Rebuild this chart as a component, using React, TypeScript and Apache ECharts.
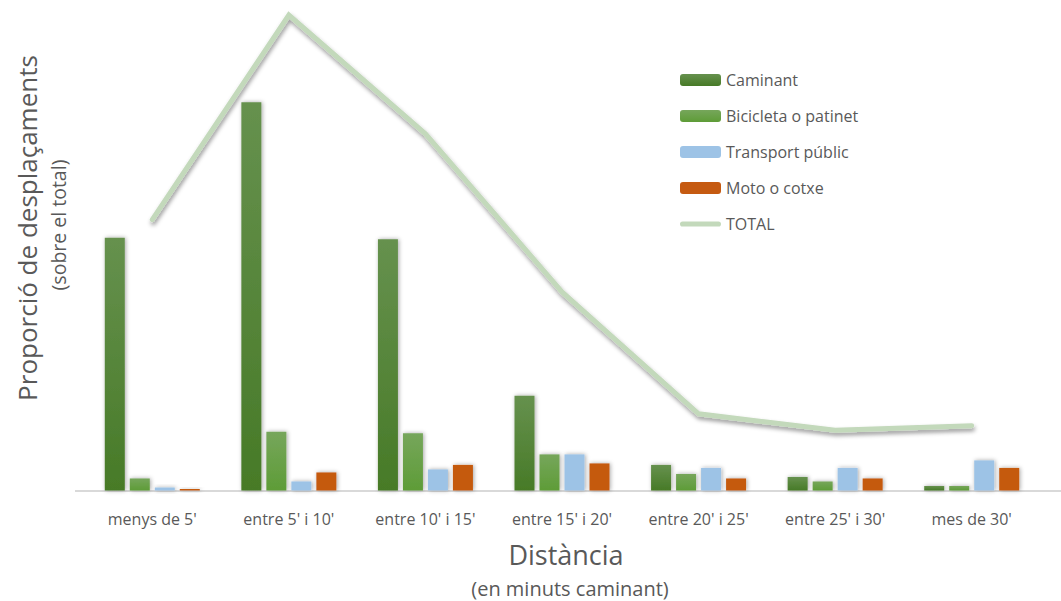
import React, { useEffect, useRef } from "react";
import * as echarts from "echarts";

const categories = [
  "menys de 5'",
  "entre 5' i 10'",
  "entre 10' i 15'",
  "entre 15' i 20'",
  "entre 20' i 25'",
  "entre 25' i 30'",
  "mes de 30'",
];
const caminant = [16.8, 25.8, 16.7, 6.3, 1.7, 0.9, 0.3];
const bicicleta = [0.8, 3.9, 3.8, 2.4, 1.1, 0.6, 0.3];
const transport = [0.2, 0.6, 1.4, 2.4, 1.5, 1.5, 2.0];
const moto = [0.1, 1.2, 1.7, 1.8, 0.8, 0.8, 1.5];
const total = [18.0, 31.6, 23.7, 13.2, 5.1, 4.0, 4.3];

const FONT = "'Open Sans', 'Noto Sans', sans-serif";
const TXT = "#595959";

export default function App() {
  const ref = useRef<HTMLDivElement>(null);
  useEffect(() => {
    if (!ref.current) return;
    const chart = echarts.init(ref.current, null, { renderer: "svg" });
    const grad = (a: string, b: string) =>
      new echarts.graphic.LinearGradient(0, 0, 0, 1, [
        { offset: 0, color: a },
        { offset: 1, color: b },
      ]);
    const barShadow = {
      shadowBlur: 4,
      shadowColor: "rgba(0,0,0,0.35)",
      shadowOffsetX: 1,
      shadowOffsetY: 0,
    };
    const barBase = {
      type: "bar" as const,
      barWidth: 20,
      barGap: "25%",
      z: 2,
    };
    chart.setOption({
      animation: false,
      textStyle: { fontFamily: FONT },
      grid: { left: 84, right: 21, top: 9, bottom: 110.5, containLabel: false },
      legend: {
        orient: "vertical",
        left: 675,
        top: 67,
        itemWidth: 41,
        itemHeight: 12,
        itemGap: 20,
        textStyle: { color: TXT, fontSize: 16, fontFamily: FONT },
        data: [
          { name: "Caminant" },
          { name: "Bicicleta o patinet" },
          { name: "Transport públic" },
          { name: "Moto o cotxe" },
          {
            name: "TOTAL",
            icon:
              "path://M2.5,0 L37.5,0 A2.5,2.5 0 0 1 37.5,5 L2.5,5 A2.5,2.5 0 0 1 2.5,0 Z",
          },
        ],
      },
      xAxis: {
        type: "category",
        data: categories,
        axisLine: { show: false },
        axisTick: { show: false },
        axisLabel: { color: TXT, fontSize: 16, margin: 20, fontFamily: FONT },
      },
      yAxis: {
        type: "value",
        min: 0,
        max: 32,
        show: false,
        splitLine: { show: false },
      },
      graphic: [
        {
          type: "line",
          shape: { x1: 75, y1: 491, x2: 1061, y2: 491 },
          style: { stroke: "#d9d9d9", lineWidth: 2 },
          z: 1,
        },
        {
          type: "text",
          x: 27,
          y: 228,
          rotation: Math.PI / 2,
          style: {
            text: "Proporció de desplaçaments",
            fontSize: 26,
            fontFamily: FONT,
            fill: TXT,
            align: "center",
            verticalAlign: "middle",
          },
        },
        {
          type: "text",
          x: 58,
          y: 225,
          rotation: Math.PI / 2,
          style: {
            text: "(sobre el total)",
            fontSize: 19.5,
            fontFamily: FONT,
            fill: TXT,
            align: "center",
            verticalAlign: "middle",
          },
        },
        {
          type: "text",
          x: 566,
          y: 554,
          style: {
            text: "Distància",
            fontSize: 27,
            fontFamily: FONT,
            fill: TXT,
            align: "center",
            verticalAlign: "middle",
          },
        },
        {
          type: "text",
          x: 570,
          y: 588,
          style: {
            text: "(en minuts caminant)",
            fontSize: 20,
            fontFamily: FONT,
            fill: TXT,
            align: "center",
            verticalAlign: "middle",
          },
        },
      ],
      series: [
        {
          ...barBase,
          name: "Caminant",
          data: caminant,
          itemStyle: { color: grad("#66914e", "#477a27"), ...barShadow },
        },
        {
          ...barBase,
          name: "Bicicleta o patinet",
          data: bicicleta,
          itemStyle: { color: grad("#76a65b", "#5e9c37"), ...barShadow },
        },
        {
          ...barBase,
          name: "Transport públic",
          data: transport,
          itemStyle: { color: "#9dc3e6", ...barShadow },
        },
        {
          ...barBase,
          name: "Moto o cotxe",
          data: moto,
          itemStyle: { color: "#c55a11", ...barShadow },
        },
        {
          type: "line",
          name: "TOTAL",
          data: total,
          symbol: "none",
          showSymbol: false,
          z: 5,
          itemStyle: { color: "#c3d9bb" },
          lineStyle: {
            color: "#c3d9bb",
            width: 5,
            cap: "round",
            join: "miter",
            shadowBlur: 4,
            shadowColor: "rgba(0,0,0,0.4)",
            shadowOffsetX: 1,
            shadowOffsetY: 3,
          },
        },
      ],
    });
    return () => chart.dispose();
  }, []);
  return (
    <div
      ref={ref}
      style={{ position: "absolute", left: 0, top: 0, width: 1061, height: 601 }}
    />
  );
}
